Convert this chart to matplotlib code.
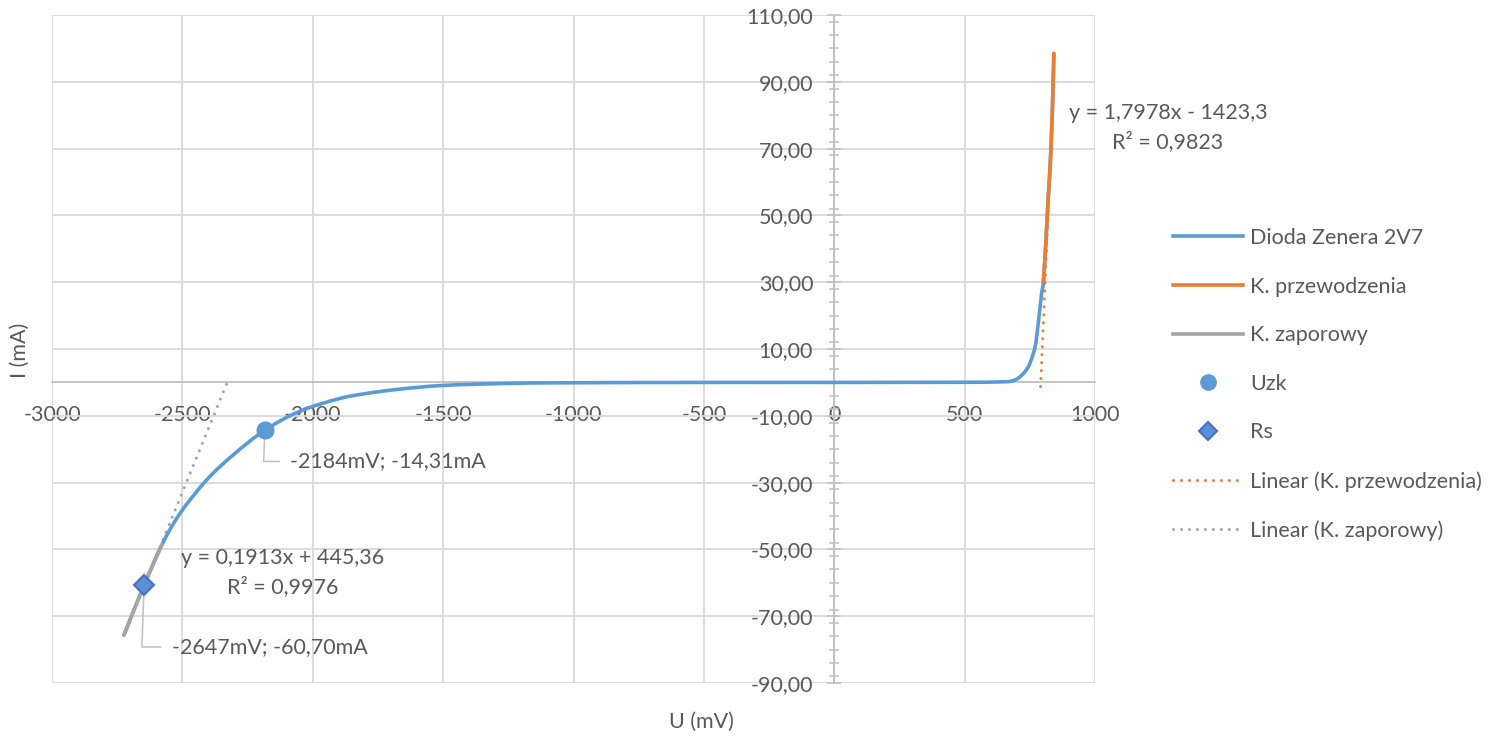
import numpy as np
import matplotlib
matplotlib.use("Agg")
import matplotlib.pyplot as plt
from matplotlib.lines import Line2D
from matplotlib.path import Path
from matplotlib.patches import PathPatch
from matplotlib.ticker import MultipleLocator, FuncFormatter, NullLocator

plt.rcParams['font.family'] = ['Lato', 'DejaVu Sans']

# charakterystyka I(U) diody Zenera 2V7, napiecie w mV, prad w mA
u_dioda = [-2724, -2647, -2579, -2509, -2407, -2305, -2184, -2049, -1896, -1793,
           -1665, -1500, -1250, -1000, -500, 0, 500, 600, 650, 674, 700, 719,
           735, 750, 770, 782, 795, 802, 812, 820, 828, 836, 842]
i_dioda = [-75.6, -60.7, -48.7, -39.2, -29.2, -21.7, -14.31, -8.6, -4.8, -3.3,
           -2.0, -0.9, -0.3, -0.1, 0.0, 0.0, 0.05, 0.1, 0.2, 0.3, 1.0, 2.2,
           3.6, 5.7, 10.7, 17.7, 26.7, 30.2, 43.0, 55.0, 65.0, 81.0, 98.5]

# kierunek przewodzenia (fragment powyzej 30 mA)
u_przew = [802, 812, 820, 828, 836, 842]
i_przew = [30.2, 43.0, 55.0, 65.0, 81.0, 98.5]

# kierunek zaporowy (fragment ponizej -48 mA)
u_zapor = [-2724, -2647, -2579]
i_zapor = [-75.6, -60.7, -48.7]

# punkty charakterystyczne
uzk = (-2184, -14.31)
rs = (-2647, -60.70)

# wspolczynniki prostych regresji
przew_a, przew_b, przew_r2 = 1.7978, -1423.3, 0.9823
zapor_a, zapor_b, zapor_r2 = 0.1913, 445.36, 0.9976
przew_zakres = [791, 842]
zapor_zakres = [-2724, -2330]

BLUE = '#5B9BD5'
ORANGE = '#ED7D31'
GRAY = '#A5A5A5'
TXT = '#595959'
GRID = '#D9D9D9'
AXIS = '#BFBFBF'
FS = 15.5


def pl(v, nd=2):
    return f"{v:.{nd}f}".replace('.', ',')


def gladka_linia(x, y):
    # wygladzona linia jak w Excelu (krzywe Beziera przez punkty pomiarowe)
    p = np.column_stack([x, y]).astype(float)
    n = len(p)
    verts = [p[0]]
    codes = [Path.MOVETO]
    for i in range(n - 1):
        p0 = p[max(i - 1, 0)]
        p1 = p[i]
        p2 = p[i + 1]
        p3 = p[min(i + 2, n - 1)]
        verts += [p1 + (p2 - p0) / 6, p2 - (p3 - p1) / 6, p2]
        codes += [Path.CURVE4] * 3
    return Path(verts, codes)


fig = plt.figure(figsize=(15.03, 7.40), dpi=100)
ax = fig.add_axes([0.0346, 0.0770, 0.694, 0.9027])

ax.add_patch(PathPatch(gladka_linia(u_dioda, i_dioda), fill=False, edgecolor=BLUE,
                       lw=2.6, capstyle='round', joinstyle='round', zorder=3))
ax.plot(u_przew, i_przew, color=ORANGE, lw=2.6, solid_capstyle='round', zorder=3)
ax.plot(u_zapor, i_zapor, color=GRAY, lw=2.6, solid_capstyle='round', zorder=3)

dot = (0, (0.01, 2.6))
xp = np.array(przew_zakres, dtype=float)
ax.plot(xp, przew_a * xp + przew_b, color=ORANGE, lw=2.2,
        linestyle=dot, dash_capstyle='round', zorder=2)
xz = np.array(zapor_zakres, dtype=float)
ax.plot(xz, zapor_a * xz + zapor_b, color=GRAY, lw=2.2,
        linestyle=dot, dash_capstyle='round', zorder=2)

ax.plot([uzk[0]], [uzk[1]], 'o', ms=12, color=BLUE, zorder=6)
ax.plot([rs[0]], [rs[1]], 'D', ms=10, mfc='#5B8FD8', mec='#4472C4', mew=1.5, zorder=6)

# etykiety punktow z liniami odniesienia
for (px, py), dx, dy in [(uzk, 18.5, -22.5), (rs, 20.0, -44.5)]:
    ax.annotate(f"{px}mV; {pl(py)}mA", xy=(px, py), xytext=(dx, dy),
                textcoords='offset points', ha='left', va='center',
                fontsize=FS, color=TXT, zorder=5,
                arrowprops=dict(arrowstyle='-', color=AXIS, lw=1.1,
                                shrinkA=6, shrinkB=0, relpos=(0, 0.5),
                                connectionstyle='angle,angleA=0,angleB=88,rad=0'))

# rownania prostych regresji
ax.text(-2114, -56.9, f"y = {pl(zapor_a, 4)}x + {pl(zapor_b)}\nR² = {pl(zapor_r2, 4)}",
        ha='center', va='center', fontsize=FS, color=TXT, linespacing=1.45)
ax.text(1280, 76.3, f"y = {pl(przew_a, 4)}x - {pl(-przew_b, 1)}\nR² = {pl(przew_r2, 4)}",
        ha='center', va='center', fontsize=FS, color=TXT, linespacing=1.45)

ax.set_xlim(-3000, 1000)
ax.set_ylim(-90, 110)
ax.xaxis.set_major_locator(MultipleLocator(500))
ax.yaxis.set_minor_locator(MultipleLocator(4))
ax.xaxis.set_minor_locator(NullLocator())
ax.set_yticks(np.arange(-90, 111, 20))
ax.yaxis.set_major_formatter(FuncFormatter(lambda v, p: pl(v)))
ax.xaxis.set_major_formatter(FuncFormatter(lambda v, p: f"{v:.0f}"))

ax.grid(True, which='major', color=GRID, lw=1.3)
ax.set_axisbelow(True)
for s in ['top', 'right']:
    ax.spines[s].set_visible(False)
ax.spines['left'].set_position(('data', 0))
ax.spines['bottom'].set_position(('data', 0))
for s in ['left', 'bottom']:
    ax.spines[s].set_color(AXIS)
    ax.spines[s].set_linewidth(1.3)
ax.tick_params(axis='x', length=0, pad=16, labelsize=FS, labelcolor=TXT)
ax.tick_params(axis='y', which='major', direction='inout', length=9.5, width=1.1,
               color=AXIS, pad=10.5, labelsize=FS, labelcolor=TXT)
ax.tick_params(axis='y', which='minor', direction='inout', length=7, width=1.1, color=AXIS)

fig.text(0.0133, 0.527, "I (mA)", rotation=90, ha='center', va='center', fontsize=FS, color=TXT)
fig.text(0.467, 0.024, "U (mV)", ha='center', va='center', fontsize=FS, color=TXT)

handles = [
    Line2D([], [], color=BLUE, lw=2.6),
    Line2D([], [], color=ORANGE, lw=2.6),
    Line2D([], [], color=GRAY, lw=2.6),
    Line2D([], [], ls='none', marker='o', ms=11, color=BLUE),
    Line2D([], [], ls='none', marker='D', ms=9, mfc='#5B8FD8', mec='#4472C4', mew=1.5),
    Line2D([], [], color=ORANGE, lw=2.2, ls=dot, dash_capstyle='round'),
    Line2D([], [], color=GRAY, lw=2.2, ls=dot, dash_capstyle='round'),
]
labels = ["Dioda Zenera 2V7", "K. przewodzenia", "K. zaporowy", "Uzk", "Rs",
          "Linear (K. przewodzenia)", "Linear (K. zaporowy)"]
fig.legend(handles, labels, loc='upper left', bbox_to_anchor=(0.7807, 0.692),
           frameon=False, fontsize=FS, labelcolor=TXT, handlelength=3.25,
           handletextpad=0.33, labelspacing=1.33, borderpad=0, borderaxespad=0)

fig.savefig("out.png", dpi=100)
